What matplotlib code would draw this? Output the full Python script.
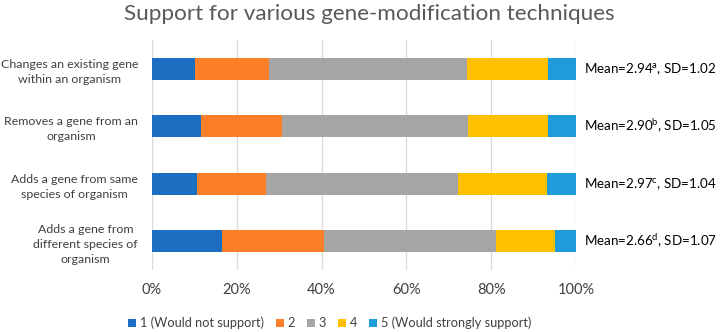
import numpy as np
import matplotlib
matplotlib.use("Agg")
import matplotlib.pyplot as plt

# fonts - close to the Calibri look of the original
plt.rcParams['font.family'] = ['Lato', 'DejaVu Sans']
plt.rcParams['mathtext.fontset'] = 'custom'
plt.rcParams['mathtext.rm'] = 'Lato'
plt.rcParams['mathtext.it'] = 'Lato:italic'

# data (percent of respondents per rating), top row first
techniques = ["Changes an existing gene\nwithin an organism",
              "Removes a gene from an\norganism",
              "Adds a gene from same\nspecies of organism",
              "Adds a gene from\ndifferent species of\norganism"]
level1 = [10.1, 11.6, 10.5, 16.6]
level2 = [17.6, 19.1, 16.3, 24.0]
level3 = [46.6, 43.8, 45.4, 40.5]
level4 = [19.0, 18.9, 20.9, 13.9]
level5 = [6.7, 6.6, 6.9, 5.0]
level_names = ["1 (Would not support)", "2", "3", "4", "5 (Would strongly support)"]
means = ["2.94", "2.90", "2.97", "2.66"]
mean_sup = ["a", "b", "c", "d"]
sds = ["1.02", "1.05", "1.04", "1.07"]

colors = ["#1b6ec2", "#fd7f28", "#a5a5a5", "#ffc000", "#1f9bdb"]
text_col = "#404040"

fig = plt.figure(figsize=(7.2, 3.32), dpi=100)
ax = fig.add_axes([0.2111, 0.1867, 0.5889, 0.6928])

y = np.arange(len(techniques))
left = np.zeros(len(techniques))
for vals, name, c in zip([level1, level2, level3, level4, level5], level_names, colors):
    ax.barh(y, vals, left=left, height=0.39, color=c, label=name, zorder=3)
    left = left + np.array(vals)

ax.set_ylim(len(techniques) - 0.5, -0.5)
ax.set_xlim(0, 100)
ax.set_xticks(np.arange(0, 101, 20))
ax.set_xticklabels([f"{v}%" for v in range(0, 101, 20)], fontsize=10.5, color=text_col)
ax.set_yticks(y)
ax.set_yticklabels(techniques, fontsize=8.9, color=text_col, multialignment='center',
                   linespacing=1.45)
ax.tick_params(axis='both', length=0)
ax.tick_params(axis='y', pad=10)
ax.tick_params(axis='x', pad=9)
ax.grid(axis='x', color="#d9d9d9", linewidth=0.9, zorder=0)
for s in ax.spines.values():
    s.set_visible(False)

# mean / SD annotations to the right of each bar
for i in range(len(techniques)):
    ax.text(102, y[i], r"Mean=" + means[i] + r"$^{\mathrm{" + mean_sup[i] + "}}$, SD=" + sds[i],
            fontsize=9.6, color="black", va='center', ha='left', clip_on=False)

fig.text(0.513, 0.957, "Support for various gene-modification techniques",
         fontsize=16.2, color="#595959", ha='center', va='center')

fig.legend(loc='center', bbox_to_anchor=(0.458, 0.027), ncol=5, frameon=False,
           fontsize=9.2, handlelength=0.6, handleheight=0.6, handletextpad=0.3,
           columnspacing=0.95, labelcolor=text_col)

fig.savefig("out.png", dpi=100)
